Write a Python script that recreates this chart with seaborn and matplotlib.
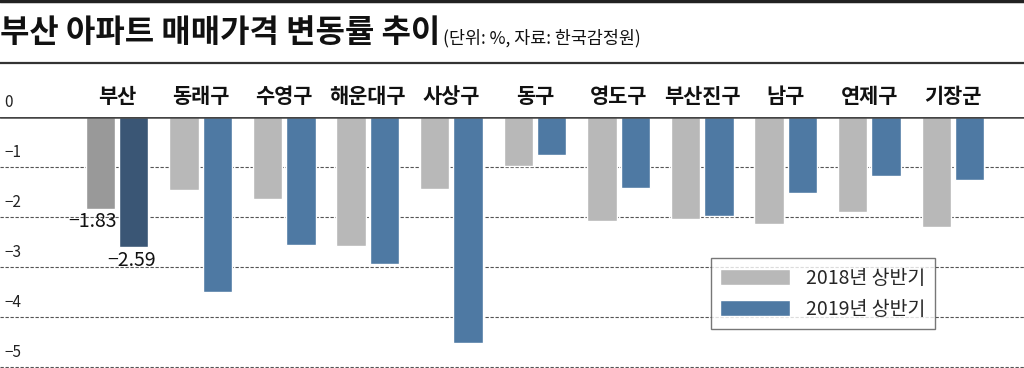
import pandas as pd
import numpy as np
import seaborn as sns
import matplotlib.pyplot as plt
from matplotlib.lines import Line2D

districts = ['부산', '동래구', '수영구', '해운대구', '사상구', '동구', '영도구', '부산진구', '남구', '연제구', '기장군']
h2018 = [-1.83, -1.46, -1.64, -2.58, -1.44, -0.98, -2.08, -2.03, -2.13, -1.90, -2.20]
h2019 = [-2.59, -3.50, -2.55, -2.93, -4.51, -0.75, -1.41, -1.98, -1.51, -1.18, -1.26]
periods = ['2018년 상반기', '2019년 상반기']
yticks = [0, -1, -2, -3, -4, -5]

df = pd.DataFrame({'district': districts * 2,
                   'period': [periods[0]] * len(districts) + [periods[1]] * len(districts),
                   'rate': h2018 + h2019})

sns.set_theme(style='white')
plt.rcParams['font.family'] = ['Noto Sans CJK KR', 'DejaVu Sans']
plt.rcParams['axes.unicode_minus'] = True

fig = plt.figure(figsize=(10.24, 3.68), dpi=100)
ax = fig.add_axes([0, 0.0, 1, 0.682])

pal = {periods[0]: '#b8b8b8', periods[1]: '#4e79a3'}
sns.barplot(data=df, x='district', y='rate', hue='period', order=districts,
            hue_order=periods, palette=pal, width=0.8, gap=0.12,
            saturation=1, ax=ax, legend=False)

# busan total in darker tones
ax.containers[0][0].set_facecolor('#999999')
ax.containers[1][0].set_facecolor('#3a5675')

ax.set_ylim(-5.01, 0)
ax.set_xlim(-1.40, 10.85)
ax.set_xlabel('')
ax.set_ylabel('')
for s in ax.spines.values():
    s.set_visible(False)

ax.set_yticks(yticks)
ax.tick_params(axis='y', left=False, labelleft=False)
for t in yticks[1:]:
    ax.axhline(t, color='#555555', lw=0.8, ls=(0, (3, 1.5)), zorder=0)
ax.axhline(0, color='#444444', lw=1.8, zorder=3)
for t in yticks:
    lab = '0' if t == 0 else '\u2212' + str(abs(t))
    ax.text(0.004, t + 0.12, lab, transform=ax.get_yaxis_transform(),
            ha='left', va='bottom', fontsize=11, color='#222222', clip_on=False)

ax.xaxis.tick_top()
ax.tick_params(axis='x', top=False, bottom=False, labeltop=True, labelbottom=False,
               length=0, pad=7)
for lbl in ax.get_xticklabels():
    lbl.set_fontsize(15)
    lbl.set_fontweight('bold')
    lbl.set_color('#111111')

# value labels for busan
b0 = ax.containers[0][0]
b1 = ax.containers[1][0]
ax.annotate('\u22121.83', (b0.get_x() + b0.get_width(), h2018[0]), xytext=(1, -2),
            textcoords='offset points', ha='right', va='top', fontsize=14,
            fontweight='medium', color='#111111')
ax.annotate('\u22122.59', (b1.get_x() + b1.get_width(), h2019[0]), xytext=(5, -2),
            textcoords='offset points', ha='right', va='top', fontsize=14,
            fontweight='medium', color='#111111')

handles = [plt.Rectangle((0, 0), 1, 1, facecolor=pal[p]) for p in periods]
leg = ax.legend(handles, periods, loc='upper left', bbox_to_anchor=(0.694, 0.437),
                bbox_transform=ax.transAxes, borderaxespad=0, fontsize=14,
                handlelength=3.6, handleheight=0.9, fancybox=False, frameon=True,
                borderpad=0.5, labelspacing=0.5, handletextpad=0.8)
leg.get_frame().set_edgecolor('#555555')
leg.get_frame().set_linewidth(1)

fig.text(0.0, 0.91, '부산 아파트 매매가격 변동률 추이', fontsize=23, fontweight='black',
         ha='left', va='center', color='#111111')
fig.text(0.433, 0.897, '(단위: %, 자료: 한국감정원)', fontsize=12.5,
         ha='left', va='center', color='#111111')
fig.add_artist(Line2D([0, 1], [0.996, 0.996], color='#222222', lw=2.5, transform=fig.transFigure))
fig.add_artist(Line2D([0, 1], [0.829, 0.829], color='#333333', lw=1.6, transform=fig.transFigure))

fig.savefig('out.png', dpi=100)
